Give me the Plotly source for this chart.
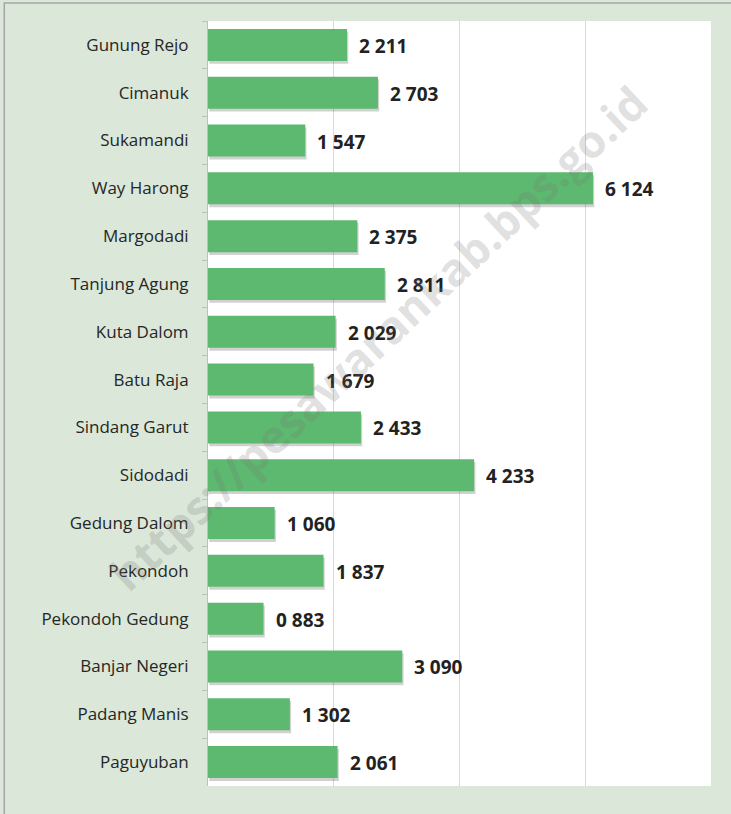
import plotly.graph_objects as go

categories = ["Gunung Rejo", "Cimanuk", "Sukamandi", "Way Harong", "Margodadi",
              "Tanjung Agung", "Kuta Dalom", "Batu Raja", "Sindang Garut", "Sidodadi",
              "Gedung Dalom", "Pekondoh", "Pekondoh Gedung", "Banjar Negeri",
              "Padang Manis", "Paguyuban"]
values = [2211, 2703, 1547, 6124, 2375, 2811, 2029, 1679, 2433, 4233,
          1060, 1837, 883, 3090, 1302, 2061]
labels = [f"{v // 1000} {v % 1000:03d}" for v in values]
watermark = "https://pesawarankab.bps.go.id"

BAR = "#5cb96f"
BG = "#dae7d9"
W = 0.67

fig = go.Figure()
# soft shadow
fig.add_trace(go.Bar(
    y=categories, x=values, orientation="h", base=20,
    width=W, offset=-W / 2 + 0.06,
    marker=dict(color="rgba(0,0,0,0.18)", line=dict(width=0)),
    hoverinfo="skip", showlegend=False,
))
fig.add_trace(go.Bar(
    y=categories, x=values, orientation="h",
    width=W, offset=-W / 2,
    marker=dict(color=BAR, line=dict(width=0)),
    showlegend=False,
))

for c, v, t in zip(categories, values, labels):
    fig.add_annotation(x=v, y=c, text=t, showarrow=False, xanchor="left",
                       xshift=10, yshift=-1,
                       font=dict(family="Open Sans", size=19, color="#222222", weight="bold"))

fig.add_annotation(xref="paper", yref="paper", x=0.338, y=0.586, text=watermark,
                   showarrow=False, textangle=-43,
                   font=dict(family="Open Sans", size=45, color="rgba(120,120,120,0.24)",
                             weight="bold"))

fig.add_shape(type="rect", xref="paper", yref="paper",
              x0=-0.405, x1=1.05, y0=-0.05, y1=1.0235,
              line=dict(color="#a6a6a6", width=1.5), layer="below", fillcolor="rgba(0,0,0,0)")

fig.update_layout(
    width=731, height=814,
    margin=dict(l=208, r=20, t=21, b=28),
    paper_bgcolor=BG, plot_bgcolor="white",
    barmode="overlay",
    xaxis=dict(range=[0, 8000], dtick=2000, showticklabels=False,
               showgrid=True, gridcolor="#d9d9d9", gridwidth=1, zeroline=False,
               showline=False, fixedrange=True),
    yaxis=dict(autorange="reversed", showline=True, linecolor="#bfbfbf", linewidth=1,
               ticks="outside", ticklen=5, tickcolor="#bfbfbf", tickson="boundaries",
               ticklabelstandoff=15, showgrid=False,
               tickfont=dict(family="Open Sans", size=17, color="#262626")),
    font=dict(family="Open Sans"),
)

fig.write_html("out.html", config={"displayModeBar": False},
               post_script="document.body.style.margin='0';document.body.style.overflow='hidden';")
